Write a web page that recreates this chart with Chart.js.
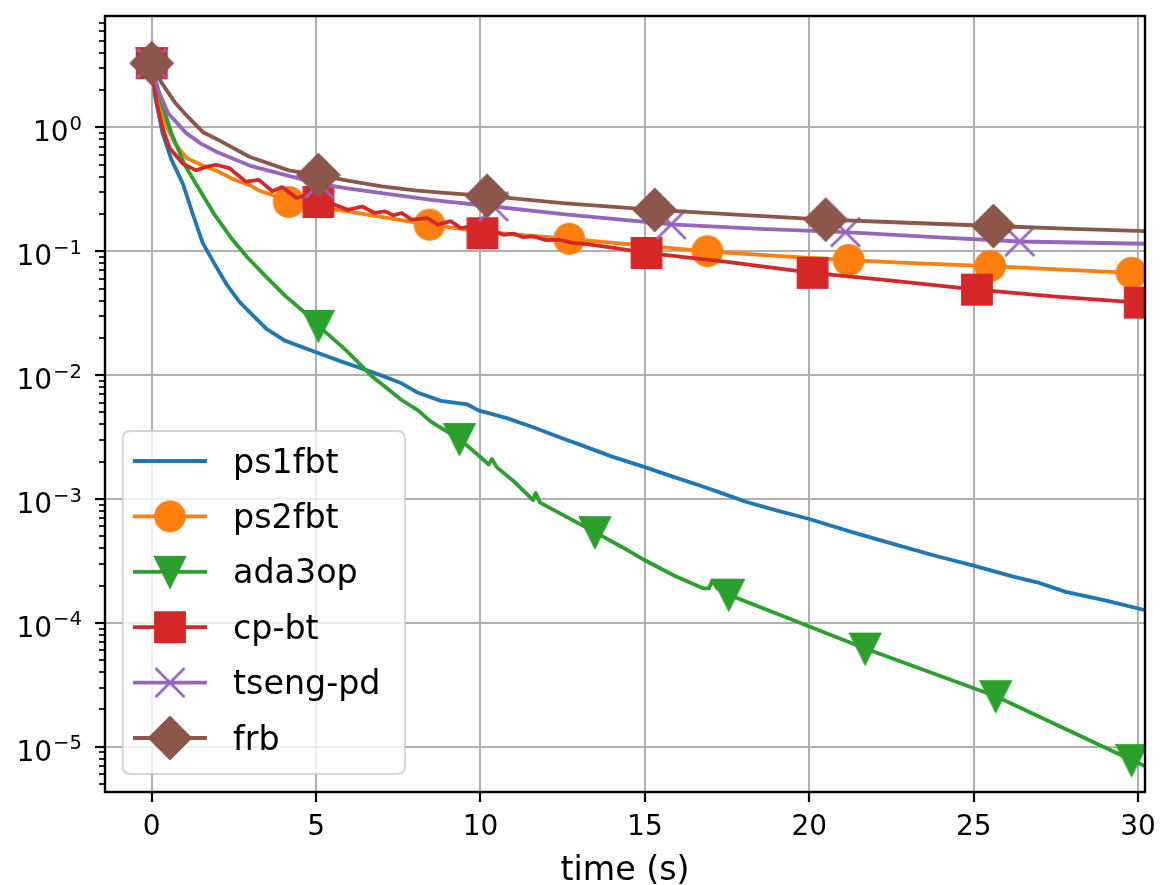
<!DOCTYPE html>
<html>
<head>
<meta charset="utf-8">
<script src="https://cdn.jsdelivr.net/npm/chart.js@4.4.0/dist/chart.umd.min.js"></script>
<style>
  html, body { margin: 0; padding: 0; background: #ffffff; }
  #wrap { width: 1161px; height: 885px; }
</style>
</head>
<body>
<div id="wrap"><canvas id="c" width="1161" height="885"></canvas></div>
<script>
// ---------------- data ----------------
const seriesNames = ['ps1fbt', 'ps2fbt', 'ada3op', 'cp-bt', 'tseng-pd', 'frb'];

const ps1fbtT = [0, 0.1, 0.33, 0.6, 0.95, 1.25, 1.55, 1.95, 2.3, 2.67, 3.1, 3.5, 4.05, 5.0, 5.8, 6.7, 7.6, 8.1, 8.8, 9.6, 9.94, 10.8, 11.6, 12.63, 13.0, 14.0, 15.0, 15.8, 16.65, 17.4, 18.07, 19.0, 20.0, 21.3, 22.6, 23.8, 25.0, 26.2, 27.0, 27.8, 29.0, 30.3];
const ps1fbtV = [3.3, 1.8, 0.9, 0.55, 0.35, 0.2, 0.117, 0.076, 0.053, 0.039, 0.03, 0.0235, 0.019, 0.0153, 0.0128, 0.0106, 0.0086, 0.0072, 0.0062, 0.0058, 0.0052, 0.0045, 0.0038, 0.0030, 0.00276, 0.0022, 0.00181, 0.00153, 0.00129, 0.0011, 0.00095, 0.00081, 0.00069, 0.00054, 0.00043, 0.00035, 0.00029, 0.000236, 0.00021, 0.000178, 0.000152, 0.000125];
const ps1fbtM = [];

const ps2fbtT = [0, 0.15, 0.44, 0.7, 1.05, 1.5, 1.95, 2.5, 3.0, 3.26, 3.67, 4.17, 5.0, 5.97, 7.2, 8.45, 10.0, 11.3, 12.7, 14.8, 16.9, 19.0, 21.2, 23.3, 25.5, 27.7, 29.8, 30.3];
const ps2fbtV = [3.3, 2.0, 1.05, 0.75, 0.57, 0.5, 0.45, 0.38, 0.34, 0.31, 0.285, 0.25, 0.228, 0.21, 0.185, 0.164, 0.145, 0.135, 0.126, 0.112, 0.1, 0.092, 0.085, 0.08, 0.076, 0.071, 0.067, 0.066];
const ps2fbtM = [0, 4.17, 8.45, 12.7, 16.9, 21.2, 25.5, 29.8];

const ada3opT = [0, 0.1, 0.33, 0.6, 1.0, 1.35, 1.9, 2.45, 2.9, 3.46, 4.07, 4.6, 5.07, 5.9, 6.68, 7.6, 8.1, 8.5, 9.36, 9.9, 10.25, 10.35, 10.5, 11.0, 11.6, 11.68, 11.8, 12.6, 13.48, 14.3, 15.0, 15.9, 16.77, 16.95, 17.05, 17.2, 17.55, 21.7, 25.67, 29.8, 30.3];
const ada3opV = [3.3, 2.5, 1.5, 0.9, 0.5, 0.35, 0.2, 0.125, 0.09, 0.063, 0.0435, 0.033, 0.025, 0.016, 0.0099, 0.0063, 0.0052, 0.0042, 0.00305, 0.0023, 0.0019, 0.0021, 0.0018, 0.0014, 0.00098, 0.00112, 0.00094, 0.00072, 0.00054, 0.00041, 0.00032, 0.00024, 0.00019, 0.00019, 0.00022, 0.00019, 0.000169, 0.000062, 0.0000256, 0.0000078, 0.0000068];
const ada3opM = [0, 5.07, 9.36, 13.48, 17.55, 21.7, 25.67, 29.8];

const cpbtT = [0, 0.15, 0.35, 0.55, 0.95, 1.35, 1.65, 1.95, 2.36, 2.86, 3.26, 3.67, 3.97, 4.4, 4.75, 5.07, 5.57, 5.97, 6.4, 6.78, 7.1, 7.35, 7.6, 7.9, 8.4, 8.7, 9.1, 9.4, 9.7, 10.06, 10.4, 10.7, 11.0, 11.3, 11.6, 12.0, 12.4, 12.8, 13.3, 14.0, 15.05, 17.5, 20.1, 22.5, 25.1, 27.5, 30.05, 30.3];
const cpbtV = [3.3, 1.6, 0.95, 0.68, 0.51, 0.45, 0.48, 0.5, 0.47, 0.365, 0.377, 0.305, 0.33, 0.27, 0.285, 0.25, 0.237, 0.216, 0.23, 0.204, 0.21, 0.195, 0.204, 0.18, 0.185, 0.164, 0.175, 0.154, 0.158, 0.14, 0.146, 0.136, 0.139, 0.13, 0.132, 0.123, 0.124, 0.117, 0.114, 0.107, 0.097, 0.082, 0.067, 0.058, 0.049, 0.043, 0.0385, 0.0378];
const cpbtM = [0, 5.07, 10.06, 15.05, 20.1, 25.1, 30.05];

const tsengT = [0, 0.2, 0.5, 1.05, 1.5, 2.0, 3.0, 3.97, 5.1, 6.0, 7.0, 8.5, 10.4, 12.5, 15.8, 18.5, 21.1, 23.8, 26.4, 30.3];
const tsengV = [3.3, 2.0, 1.3, 0.9, 0.74, 0.63, 0.49, 0.42, 0.35, 0.32, 0.295, 0.26, 0.23, 0.2, 0.165, 0.152, 0.143, 0.13, 0.12, 0.115];
const tsengM = [0, 5.1, 10.4, 15.8, 21.1, 26.4];

const frbT = [0, 0.3, 0.7, 1.0, 1.55, 2.0, 2.97, 4.17, 5.07, 6.0, 7.0, 8.0, 9.0, 10.2, 12.5, 15.3, 17.9, 20.5, 23.0, 25.6, 28.0, 30.3];
const frbV = [3.3, 2.3, 1.6, 1.3, 0.92, 0.8, 0.58, 0.45, 0.413, 0.37, 0.335, 0.31, 0.295, 0.28, 0.245, 0.216, 0.197, 0.18, 0.17, 0.16, 0.152, 0.145];
const frbM = [0, 5.07, 10.2, 15.3, 20.5, 25.6];

const xTickVals = [0, 5, 10, 15, 20, 25, 30];
const xTickLabels = ['0', '5', '10', '15', '20', '25', '30'];
const yTickExps = [-5, -4, -3, -2, -1, 0];
const yTickExpLabels = ['\u22125', '\u22124', '\u22123', '\u22122', '\u22121', '0'];
const xTitle = 'time (s)';

// ---------------- styling ----------------
const FONT = '"DejaVu Sans", "Liberation Sans", sans-serif';
const colors = ['#1f77b4', '#ff7f0e', '#2ca02c', '#d62728', '#9467bd', '#8c564b'];
const markerKinds = [null, 'o', 'v', 's', 'x', 'D'];
const MS = 29;   // marker size in px
const MEW = 2.8; // marker edge width
const LW = 3.8;

function makeMarker(kind, color) {
  if (!kind) return null;
  const size = 52;
  const cv = document.createElement('canvas');
  cv.width = size; cv.height = size;
  const g = cv.getContext('2d');
  const c = size / 2, h = MS / 2;
  g.fillStyle = color; g.strokeStyle = color; g.lineWidth = MEW;
  g.lineJoin = 'miter';
  g.beginPath();
  if (kind === 'o') {
    g.arc(c, c, h, 0, Math.PI * 2);
    g.fill(); g.stroke();
  } else if (kind === 's') {
    g.rect(c - h, c - h, MS, MS);
    g.fill(); g.stroke();
  } else if (kind === 'v') {
    g.moveTo(c, c + h); g.lineTo(c - h, c - h); g.lineTo(c + h, c - h); g.closePath();
    g.fill(); g.stroke();
  } else if (kind === 'D') {
    const d = h * Math.SQRT2;
    g.moveTo(c, c - d); g.lineTo(c + d, c); g.lineTo(c, c + d); g.lineTo(c - d, c); g.closePath();
    g.fill(); g.stroke();
  } else if (kind === 'x') {
    g.lineCap = 'butt';
    g.moveTo(c - h, c - h); g.lineTo(c + h, c + h);
    g.moveTo(c - h, c + h); g.lineTo(c + h, c - h);
    g.stroke();
  }
  return cv;
}
const markerImgs = colors.map((col, i) => makeMarker(markerKinds[i], col));

const allT = [ps1fbtT, ps2fbtT, ada3opT, cpbtT, tsengT, frbT];
const allV = [ps1fbtV, ps2fbtV, ada3opV, cpbtV, tsengV, frbV];
const allM = [ps1fbtM, ps2fbtM, ada3opM, cpbtM, tsengM, frbM];

const datasets = seriesNames.map((name, i) => {
  const pts = allT[i].map((t, k) => ({ x: t, y: allV[i][k] }));
  const marks = allM[i];
  return {
    label: name,
    data: pts,
    borderColor: colors[i],
    backgroundColor: colors[i],
    borderWidth: LW,
    borderJoinStyle: 'round',
    borderCapStyle: 'butt',
    tension: 0,
    fill: false,
    clip: 0,
    order: 10 - i,
    pointStyle: markerImgs[i] || 'circle',
    pointRadius: (ctx) => (markerImgs[i] && ctx.raw && marks.indexOf(ctx.raw.x) >= 0) ? 16 : 0,
    pointHoverRadius: 0,
    pointBorderWidth: 0,
  };
});

// ---------------- decorations plugin ----------------
const decor = {
  id: 'decor',
  afterDatasetsDraw(chart) {
    const { ctx, chartArea: a, scales } = chart;
    const xs = scales.x, ys = scales.y;
    ctx.save();
    // spines
    ctx.strokeStyle = '#000';
    ctx.lineWidth = 2.4;
    ctx.strokeRect(a.left, a.top, a.right - a.left, a.bottom - a.top);
    // x ticks
    ctx.lineWidth = 2.2;
    xTickVals.forEach(v => {
      const px = Math.round(xs.getPixelForValue(v));
      ctx.beginPath(); ctx.moveTo(px, a.bottom); ctx.lineTo(px, a.bottom + 10); ctx.stroke();
    });
    // y major ticks
    yTickExps.forEach(e => {
      const py = Math.round(ys.getPixelForValue(Math.pow(10, e)));
      ctx.beginPath(); ctx.moveTo(a.left, py); ctx.lineTo(a.left - 10, py); ctx.stroke();
    });
    // y minor ticks
    ctx.lineWidth = 1.7;
    for (let e = -6; e <= 0; e++) {
      for (let k = 2; k <= 9; k++) {
        const v = k * Math.pow(10, e);
        if (v < ys.min || v > ys.max) continue;
        const py = Math.round(ys.getPixelForValue(v));
        ctx.beginPath(); ctx.moveTo(a.left, py); ctx.lineTo(a.left - 6, py); ctx.stroke();
      }
    }
    // x tick labels
    ctx.fillStyle = '#000';
    ctx.font = '28px ' + FONT;
    ctx.textAlign = 'center';
    ctx.textBaseline = 'alphabetic';
    xTickVals.forEach((v, i) => {
      ctx.fillText(xTickLabels[i], xs.getPixelForValue(v), a.bottom + 43);
    });
    // y tick labels (10 with superscript exponent)
    ctx.textAlign = 'left';
    yTickExps.forEach((e, i) => {
      const py = ys.getPixelForValue(Math.pow(10, e));
      ctx.font = '28px ' + FONT;
      const w1 = ctx.measureText('10').width;
      ctx.font = '19.6px ' + FONT;
      const w2 = ctx.measureText(yTickExpLabels[i]).width;
      const x0 = 81 - w1 - w2;
      ctx.font = '28px ' + FONT;
      ctx.fillText('10', x0, py + 14);
      ctx.font = '19.6px ' + FONT;
      ctx.fillText(yTickExpLabels[i], x0 + w1 + 1, py + 2.5);
    });
    // x axis title
    ctx.font = '33.3px ' + FONT;
    ctx.textAlign = 'center';
    ctx.fillText(xTitle, (a.left + a.right) / 2, 880);
    ctx.restore();
  },
  afterDraw(chart) {
    const { ctx } = chart;
    ctx.save();
    // legend box
    const bx = 122.7, by = 431, bw = 282.3, bh = 343, r = 8;
    ctx.beginPath();
    ctx.moveTo(bx + r, by);
    ctx.lineTo(bx + bw - r, by); ctx.quadraticCurveTo(bx + bw, by, bx + bw, by + r);
    ctx.lineTo(bx + bw, by + bh - r); ctx.quadraticCurveTo(bx + bw, by + bh, bx + bw - r, by + bh);
    ctx.lineTo(bx + r, by + bh); ctx.quadraticCurveTo(bx, by + bh, bx, by + bh - r);
    ctx.lineTo(bx, by + r); ctx.quadraticCurveTo(bx, by, bx + r, by);
    ctx.closePath();
    ctx.fillStyle = 'rgba(255,255,255,0.8)';
    ctx.fill();
    ctx.strokeStyle = 'rgba(204,204,204,0.8)';
    ctx.lineWidth = 2;
    ctx.stroke();
    seriesNames.forEach((name, i) => {
      const y = 461 + i * 55.4;
      ctx.strokeStyle = colors[i];
      ctx.lineWidth = LW;
      ctx.beginPath(); ctx.moveTo(133, y); ctx.lineTo(207, y); ctx.stroke();
      const img = markerImgs[i];
      if (img) ctx.drawImage(img, 170 - img.width / 2, y - img.height / 2);
      ctx.fillStyle = '#000';
      ctx.font = '33.3px ' + FONT;
      ctx.textAlign = 'left';
      ctx.textBaseline = 'alphabetic';
      ctx.fillText(name, 233, y + 11.5);
    });
    ctx.restore();
  }
};

// ---------------- chart ----------------
new Chart(document.getElementById('c'), {
  type: 'line',
  data: { datasets },
  options: {
    responsive: false,
    animation: false,
    events: [],
    layout: { padding: { top: 12, right: 9, left: 0, bottom: 0 } },
    plugins: { legend: { display: false }, tooltip: { enabled: false }, title: { display: false } },
    scales: {
      x: {
        type: 'linear',
        min: -1.42,
        max: 30.21,
        afterBuildTicks: (s) => { s.ticks = xTickVals.map(v => ({ value: v })); },
        afterFit: (s) => { s.height = 93; },
        ticks: { display: false },
        grid: { color: '#b0b0b0', lineWidth: 2, drawTicks: false },
        border: { display: false },
        title: { display: false }
      },
      y: {
        type: 'logarithmic',
        min: 4.31e-6,
        max: 7.94,
        afterBuildTicks: (s) => { s.ticks = yTickExps.map(e => ({ value: Math.pow(10, e) })); },
        afterFit: (s) => { s.width = 105; },
        ticks: { display: false },
        grid: { color: '#b0b0b0', lineWidth: 2, drawTicks: false },
        border: { display: false },
        title: { display: false }
      }
    }
  },
  plugins: [decor]
});
</script>
</body>
</html>
